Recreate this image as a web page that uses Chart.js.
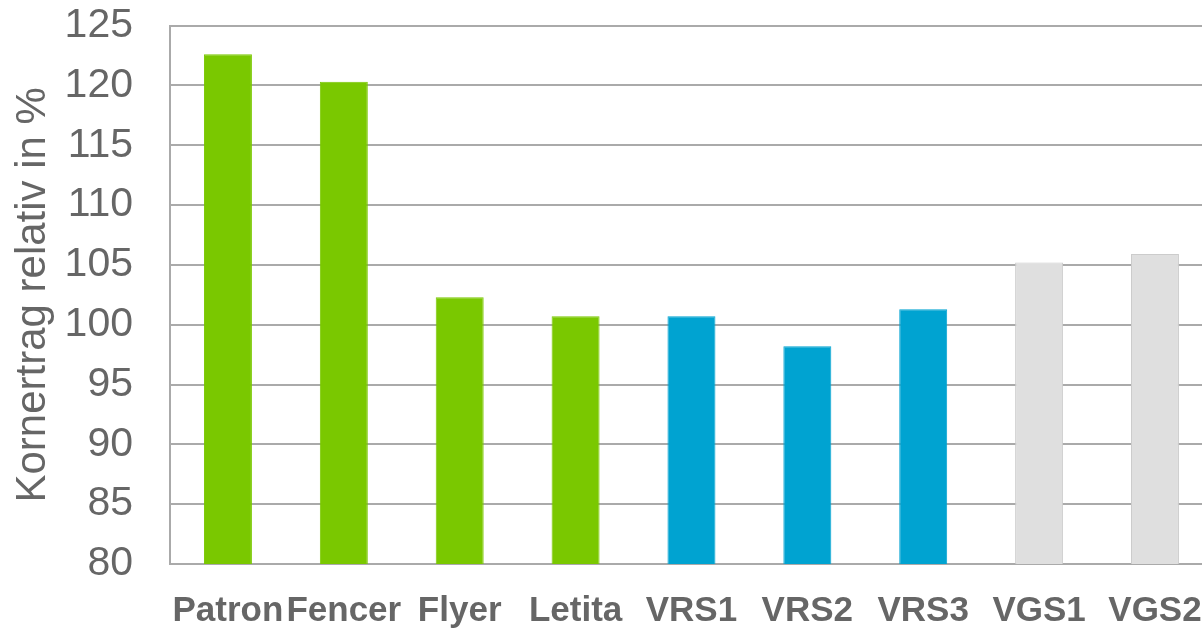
<!DOCTYPE html>
<html>
<head>
<meta charset="utf-8">
<script src="https://cdn.jsdelivr.net/npm/chart.js@4.4.0/dist/chart.umd.min.js"></script>
<style>
  html, body { margin: 0; padding: 0; background: #fff; overflow: hidden; }
  #wrap { position: relative; width: 1220px; height: 629px; }
</style>
</head>
<body>
<div id="wrap"><canvas id="myChart" width="1220" height="629"></canvas></div>
<script>
// sorts and relative grain yield (%)
let sorten = ['Patron', 'Fencer', 'Flyer', 'Letita', 'VRS1', 'VRS2', 'VRS3', 'VGS1', 'VGS2'];
let ertrag = [122.6, 120.3, 102.3, 100.7, 100.7, 98.2, 101.3, 105.2, 105.9];
let gruppe = ['g', 'g', 'g', 'g', 'b', 'b', 'b', 'x', 'x'];
let y_ticks = [80, 85, 90, 95, 100, 105, 110, 115, 120, 125];

let fill_col = { g: '#7AC800', b: '#00A3D1', x: '#DFDFDF' };
let line_col = { g: '#7AC800', b: '#00A3D1', x: '#CCCCCC' };

var ctx = document.getElementById('myChart');
var chart = new Chart(ctx, {
    type: 'bar',
    data: {
        labels: sorten,
        datasets: [{
            data: ertrag,
            backgroundColor: gruppe.map(g => fill_col[g]),
            borderColor: gruppe.map(g => line_col[g]),
            borderWidth: 1,
            barPercentage: 0.414,
            categoryPercentage: 1.0
        }]
    },
    options: {
        responsive: false,
        animation: false,
        layout: { padding: { top: 0, left: 8, right: 6, bottom: 0 } },
        plugins: { legend: { display: false }, tooltip: { enabled: false } },
        scales: {
            x: {
                grid: { display: false },
                border: { display: true, color: '#AAAAAA', width: 2 },
                ticks: {
                    color: '#666666',
                    font: { family: 'Liberation Sans', size: 35, weight: 'bold' },
                    padding: 18,
                    maxRotation: 0,
                    autoSkip: false
                },
                afterFit: function (s) { s.height = 65; }
            },
            y: {
                min: 80,
                max: 125,
                afterBuildTicks: function (s) { s.ticks = y_ticks.map(v => ({ value: v })); },
                grid: { color: '#AAAAAA', lineWidth: 2, drawTicks: true, tickLength: 36, tickColor: 'rgba(0,0,0,0)' },
                border: { display: true, color: '#AAAAAA', width: 2 },
                ticks: {
                    color: '#666666',
                    font: { family: 'Liberation Sans', size: 41 },
                    padding: 1
                },
                title: {
                    display: true,
                    text: 'Kornertrag relativ in %',
                    color: '#666666',
                    font: { family: 'Liberation Sans', size: 42 },
                    padding: 0
                },
                afterFit: function (s) { s.width = 162; }
            }
        }
    }
});
</script>
</body>
</html>
